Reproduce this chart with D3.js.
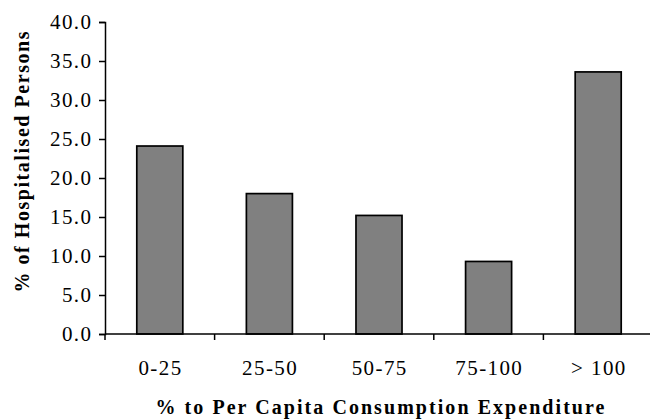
<!DOCTYPE html>
<html>
<head>
<meta charset="utf-8">
<script src="https://cdn.jsdelivr.net/npm/d3@7"></script>
<style>
  html, body { margin: 0; padding: 0; background: #fff; }
  svg { display: block; }
  text { font-family: "Liberation Serif", "DejaVu Serif", serif; fill: #000; }
</style>
</head>
<body>
<svg id="chart" width="650" height="419"></svg>
<script>
// Share of hospitalised persons by cost of treatment as % of per capita consumption expenditure
const categories = ["0-25", "25-50", "50-75", "75-100", "> 100"];
const values = [24.1, 18.0, 15.2, 9.3, 33.6];
const yTicks = [0, 5, 10, 15, 20, 25, 30, 35, 40];

const svg = d3.select("#chart");
const margin = { left: 105, top: 22, bottom: 334 };
const plotRight = 653;

const x = d3.scaleBand()
  .domain(categories)
  .range([margin.left, plotRight])
  .paddingInner(0.58)
  .paddingOuter(0.29);

const y = d3.scaleLinear()
  .domain([0, 40])
  .range([margin.bottom, margin.top]);

// bars
svg.append("g")
  .selectAll("rect")
  .data(values)
  .join("rect")
  .attr("x", (d, i) => x(categories[i]))
  .attr("y", d => y(d))
  .attr("width", x.bandwidth())
  .attr("height", d => y(0) - y(d))
  .attr("fill", "#808080")
  .attr("stroke", "#000")
  .attr("stroke-width", 1.7);

// y axis
const yAxis = svg.append("g")
  .attr("transform", `translate(${margin.left},0)`)
  .call(d3.axisLeft(y).tickValues(yTicks).tickFormat(d3.format(".1f")).tickSize(6).tickPadding(8));
yAxis.select(".domain").attr("stroke", "#000").attr("stroke-width", 1.5);
yAxis.selectAll(".tick line").attr("stroke", "#000").attr("stroke-width", 1.5);
yAxis.selectAll(".tick text")
  .attr("font-family", "Liberation Serif")
  .attr("font-size", 21)
  .attr("letter-spacing", 1.4)
  .attr("dx", 1.4);

// x axis: ticks at category boundaries
const xAxisG = svg.append("g").attr("transform", `translate(0,${y(0)})`);
xAxisG.append("line")
  .attr("x1", margin.left).attr("x2", 650)
  .attr("stroke", "#000").attr("stroke-width", 1.5);
const step = x.step();
xAxisG.selectAll("line.tk")
  .data(categories)
  .join("line")
  .attr("class", "tk")
  .attr("x1", (d, i) => margin.left + i * step)
  .attr("x2", (d, i) => margin.left + i * step)
  .attr("y1", 0).attr("y2", 6)
  .attr("stroke", "#000").attr("stroke-width", 1.5);
xAxisG.selectAll("text")
  .data(categories)
  .join("text")
  .attr("x", d => x(d) + x.bandwidth() / 2 + 0.7)
  .attr("y", 41)
  .attr("text-anchor", "middle")
  .attr("font-size", 21)
  .attr("letter-spacing", 1.4)
  .text(d => d);

// axis titles
svg.append("text")
  .attr("x", 380)
  .attr("y", 414)
  .attr("text-anchor", "middle")
  .attr("font-weight", "bold")
  .attr("font-size", 20)
  .attr("textLength", 449)
  .attr("lengthAdjust", "spacing")
  .text("% to Per Capita Consumption Expenditure");

svg.append("text")
  .attr("transform", "translate(29,162) rotate(-90)")
  .attr("text-anchor", "middle")
  .attr("font-weight", "bold")
  .attr("font-size", 20)
  .attr("textLength", 261)
  .attr("lengthAdjust", "spacing")
  .text("% of Hospitalised Persons");
</script>
</body>
</html>
